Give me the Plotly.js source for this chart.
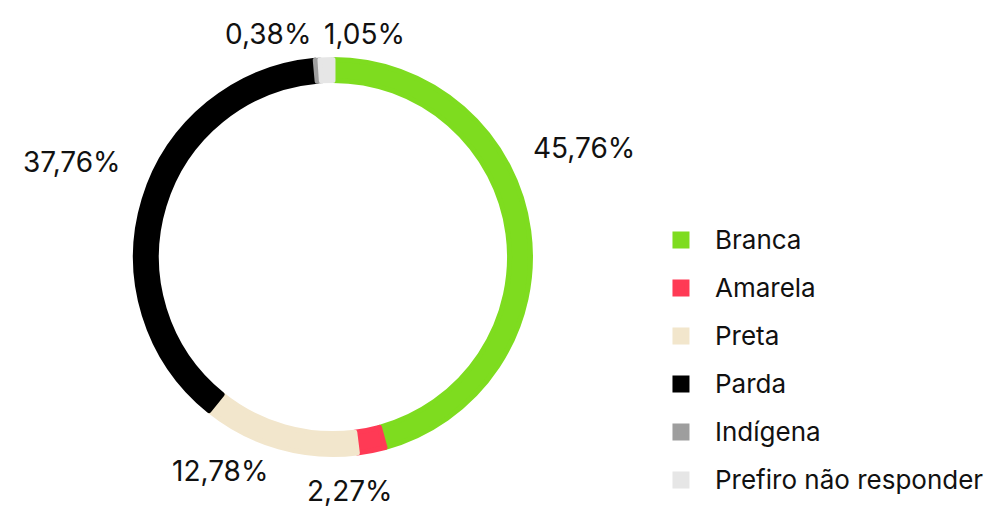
<!DOCTYPE html>
<html>
<head>
<meta charset="utf-8">
<script src="https://cdn.plot.ly/plotly-3.0.1.min.js"></script>
<style>html,body{margin:0;padding:0;background:#fff;}#chart{width:984px;height:506px;}</style>
</head>
<body>
<div id="chart"></div>
<script>
const categories = ["Branca", "Amarela", "Preta", "Parda", "Indígena", "Prefiro não responder"];
const values = [45.76, 2.27, 12.78, 37.76, 0.38, 1.05];
const colors = ["#7EDC1F", "#FF3A55", "#F2E6CC", "#000000", "#9E9E9E", "#E6E6E6"];
// label anchor positions (paper fraction) for each slice's percentage text
const labelX = [0.5935, 0.3557, 0.2236, 0.0732, 0.2724, 0.3709];
const labelY = [0.7075, 0.0295, 0.0695, 0.6790, 0.9330, 0.9330];

const legendLabels = categories.map(c => '<span style="font-size:26px;baseline-shift:4px">' + c + '</span>');
const total = values.reduce((a, b) => a + b, 0);
const fmtPct = v => (v / total * 100).toFixed(2).replace(".", ",") + "%";

const trace = {
  type: "pie",
  labels: legendLabels,
  values: values,
  sort: false,
  direction: "clockwise",
  rotation: 0,
  hole: 0.894,
  marker: {colors: colors, line: {color: colors, width: 5}},
  textinfo: "none",
  domain: {x: [0.1377, 0.5391], y: [0.1018, 0.8824]},
  automargin: false,
  hoverinfo: "none"
};

const annotations = values.map((v, i) => ({
  xref: "paper", yref: "paper",
  x: labelX[i], y: labelY[i],
  xanchor: "center", yanchor: "middle",
  text: fmtPct(v),
  showarrow: false,
  font: {family: "Inter, sans-serif", size: 28, color: "#111111"}
}));

const layout = {
  width: 984,
  height: 506,
  margin: {l: 0, r: 0, t: 0, b: 0, autoexpand: false},
  paper_bgcolor: "#ffffff",
  separators: ",.",
  showlegend: true,
  annotations: annotations,
  legend: {
    x: 0.6575, xanchor: "left",
    y: 0.583, yanchor: "top",
    itemwidth: 58,
    font: {family: "Inter, sans-serif", size: 34.6, color: "#111111"},
    bgcolor: "rgba(0,0,0,0)",
    borderwidth: 0
  },
  font: {family: "Inter, sans-serif", color: "#111111"}
};

Plotly.newPlot("chart", [trace], layout, {displayModeBar: false, staticPlot: true});
</script>
</body>
</html>
